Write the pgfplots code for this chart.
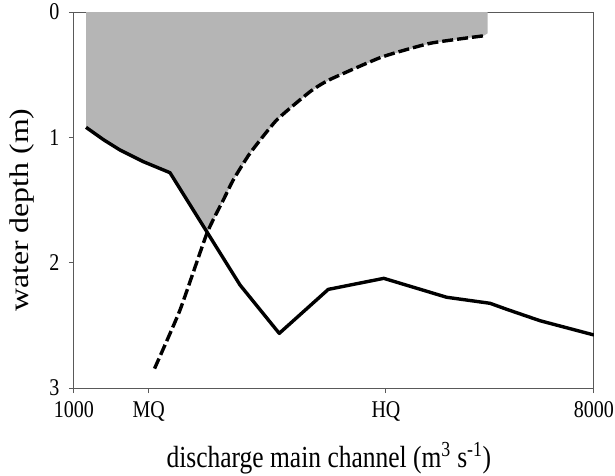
\documentclass[border=0pt]{standalone}
\usepackage{fontspec}
\setmainfont{Liberation Serif}
\usepackage{graphicx}
\usepackage{pgfplots}
\pgfplotsset{compat=1.18}
\newcommand{\vs}[1]{\scalebox{1}[1.2]{#1}}
\begin{document}
\begin{tikzpicture}
\useasboundingbox (-74pt,-87pt) rectangle (541pt,388pt);
\begin{axis}[
  at={(0,0)}, anchor=south west,
  scale only axis, width=520pt, height=376pt,
  xmin=1000, xmax=8000, ymin=0, ymax=3, y dir=reverse,
  xtick={1000,2005,5200,8000},
  xticklabels={\vs{1000},\vs{MQ},\vs{HQ},\vs{8000}},
  ytick={0,1,2,3},
  yticklabel={\vs{\pgfmathprintnumber{\tick}}},
  tick align=outside, xtick pos=bottom, ytick pos=left, major tick length=5pt,
  axis line style={gray!70!black, line width=1pt},
  tick style={gray!70!black, line width=1pt},
  ticklabel style={font=\fontsize{20}{24}\selectfont},
  xticklabel style={yshift=-5pt},
  yticklabel style={xshift=-6pt},
  /pgf/number format/assume math mode=true,
  xlabel={\scalebox{1}[1.2]{discharge main channel (m\textsuperscript{3} s\textsuperscript{-1})}},
  ylabel={\scalebox{1.18}[1]{water depth (m)}},
  xlabel style={font=\fontsize{25.5}{30}\selectfont, at={(axis description cs:0.49,-0.186)}, anchor=center},
  ylabel style={font=\fontsize{27}{32}\selectfont, at={(axis description cs:-0.1,0.473)}, anchor=center},
]
% shaded area
\addplot[fill=black!29, draw=none] coordinates {
  (1162,0) (1162,0.920) (1400,1.02) (1619,1.101) (1933,1.194) (2292,1.282)
  (2790,1.765) (3010,1.50) (3144,1.340) (3369,1.127) (3728,0.862)
  (4177,0.636) (4437,0.541) (5140,0.360) (5800,0.249) (6513,0.190)
  (6568,0.170) (6568,0)
};
% solid line
\addplot[black, line width=3.4pt, line join=round] coordinates {
  (1162,0.920) (1400,1.02) (1619,1.101) (1933,1.194) (2292,1.282)
  (3235,2.178) (3763,2.564) (4423,2.213) (5170,2.125) (6017,2.276)
  (6600,2.324) (6825,2.372) (7273,2.463) (8000,2.577)
};
% dashed line
\addplot[black, line width=3.4pt, dash pattern=on 11pt off 4pt, smooth, tension=0.3] coordinates {
  (2084,2.845) (2427,2.378) (2790,1.765) (3010,1.50) (3144,1.340)
  (3369,1.127) (3728,0.862) (4177,0.636) (4437,0.541) (5140,0.360)
  (5800,0.249) (6513,0.190)
};
\end{axis}
\end{tikzpicture}
\end{document}
